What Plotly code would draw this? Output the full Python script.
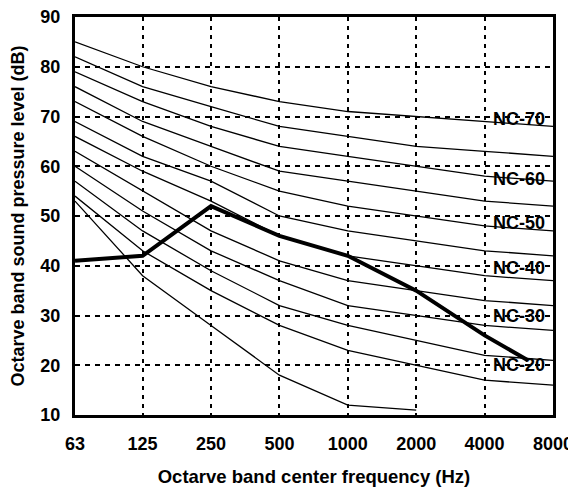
import numpy as np
import plotly.graph_objects as go

# Octave band centre frequencies (Hz) and their tick labels
freqs = [63, 125, 250, 500, 1000, 2000, 4000, 8000]
freq_labels = ["63", "125", "250", "500", "1000", "2000", "4000", "8000"]

# NC curves (dB)
nc70 = [85, 80, 76, 73, 71, 70, 69, 68]
nc65 = [82, 76, 72, 68, 66, 64, 63, 62]
nc60 = [79, 73, 68, 64, 62, 60, 58, 57]
nc55 = [76, 69, 64, 59, 57, 55, 53, 52]
nc50 = [73, 66, 60, 55, 52, 50, 48, 47]
nc45 = [69, 62, 57, 50, 47, 45, 43, 42]
nc40 = [66, 59, 53, 46, 42, 40, 38, 37]
nc35 = [63, 55, 47, 41, 37, 35, 33, 32]
nc30 = [60, 51, 43, 37, 32, 30, 28, 27]
nc25 = [57, 47, 39, 32, 28, 25, 22, 21]
nc20 = [54, 43, 35, 28, 23, 20, 17, 16]
nc15 = [53, 38, 28, 18, 12, 11]

# Measured spectrum (thick line)
measured_freqs = [63, 125, 250, 500, 1000, 2000, 4000, 6200]
measured_levels = [41, 42, 52, 46, 42, 35, 26, 21]

# Curve labels
label_names = ["NC-70", "NC-60", "NC-50", "NC-40", "NC-30", "NC-20"]
label_levels = [69.5, 57.5, 48.5, 39.5, 30, 20]

FONT = "Liberation Sans, Arial, Helvetica, sans-serif"

fig = go.Figure()

curves = [nc70, nc65, nc60, nc55, nc50, nc45, nc40, nc35, nc30, nc25, nc20, nc15]
for c in curves:
    fig.add_trace(go.Scatter(
        x=freqs[:len(c)], y=c, mode="lines",
        line=dict(color="black", width=1.3),
        hoverinfo="skip", showlegend=False,
    ))

fig.add_trace(go.Scatter(
    x=measured_freqs, y=measured_levels, mode="lines",
    line=dict(color="black", width=4),
    showlegend=False,
))

for name, lvl in zip(label_names, label_levels):
    fig.add_annotation(
        x=np.log10(4000), y=lvl, xref="x", yref="y",
        text=name, showarrow=False, xanchor="left", yanchor="middle",
        xshift=6,
        font=dict(family=FONT, size=18, color="black", weight="bold"),
    )

# the page body has an 8px margin, so the figure is offset by (8, 8)
fig.update_layout(
    width=576, height=493,
    margin=dict(l=67, r=31, t=9, b=86),
    plot_bgcolor="white", paper_bgcolor="white",
    showlegend=False,
    font=dict(family=FONT, color="black"),
)

fig.update_xaxes(
    type="log",
    range=[np.log10(63), np.log10(8000)],
    tickvals=freqs, ticktext=freq_labels,
    tickfont=dict(family=FONT, size=18, color="black", weight="bold"),
    ticks="", ticklabelstandoff=10, ticklabeloverflow="allow",
    showgrid=True, gridcolor="black", gridwidth=2, griddash="4px,5px",
    showline=True, linecolor="black", linewidth=3, mirror=True,
    zeroline=False,
    title=dict(text="Octarve band center frequency (Hz)", standoff=18,
               font=dict(family=FONT, size=18.5, color="black", weight="bold")),
    automargin=False,
)

fig.update_yaxes(
    range=[10, 90],
    tickvals=[10, 20, 30, 40, 50, 60, 70, 80, 90],
    tickfont=dict(family=FONT, size=18, color="black", weight="bold"),
    ticks="", ticklabelstandoff=8, ticklabeloverflow="allow",
    showgrid=True, gridcolor="black", gridwidth=1.5, griddash="5px,5px",
    showline=True, linecolor="black", linewidth=3, mirror=True,
    zeroline=False,
    title=dict(text="Octarve band sound pressure level (dB)", standoff=12,
               font=dict(family=FONT, size=18, color="black", weight="bold")),
    automargin=False,
)

fig.write_html("out.html")
